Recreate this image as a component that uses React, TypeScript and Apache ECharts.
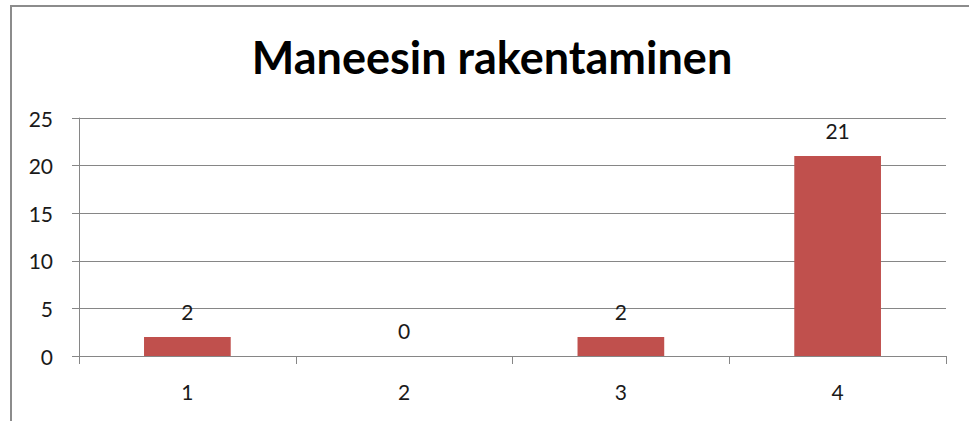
import React, { useEffect, useRef } from "react";
import * as echarts from "echarts";

const titleText = "Maneesin rakentaminen";
const categories = ["1", "2", "3", "4"];
const values = [2, 0, 2, 21];
const yTicks = { min: 0, max: 25, interval: 5 };

export default function App() {
  const ref = useRef<HTMLDivElement>(null);
  useEffect(() => {
    if (!ref.current) return;
    const chart = echarts.init(ref.current, null, { renderer: "svg" });
    const font = "Lato, 'Open Sans', sans-serif";
    chart.setOption({
      animation: false,
      backgroundColor: "#ffffff",
      graphic: [
        {
          type: "rect",
          shape: { x: 11, y: 6, width: 1100, height: 600 },
          style: { fill: "none", stroke: "#8c8c8c", lineWidth: 2 },
          silent: true,
        },
        {
          type: "text",
          x: 492,
          y: 57,
          style: {
            text: titleText,
            font: `bold 45px ${font}`,
            fill: "#000000",
            textAlign: "center",
            textVerticalAlign: "middle",
          },
        },
      ],
      grid: { left: 79, right: 23, top: 118, bottom: 65, containLabel: false },
      xAxis: {
        type: "category",
        data: categories,
        boundaryGap: true,
        axisLine: { show: true, lineStyle: { color: "#868686", width: 1 } },
        axisTick: { show: true, length: 8, lineStyle: { color: "#868686" } },
        axisLabel: { color: "#1a1a1a", fontSize: 21, fontFamily: font, margin: 25 },
        splitLine: { show: false },
      },
      yAxis: {
        type: "value",
        min: yTicks.min,
        max: yTicks.max,
        interval: yTicks.interval,
        axisLine: { show: true, lineStyle: { color: "#868686", width: 1 } },
        axisTick: { show: true, length: 7, lineStyle: { color: "#868686" } },
        axisLabel: { color: "#1a1a1a", fontSize: 21, fontFamily: font, margin: 26 },
        splitLine: { show: true, lineStyle: { color: "#868686", width: 1 } },
      },
      series: [
        {
          type: "bar",
          data: values,
          barWidth: "40%",
          itemStyle: { color: "#C0504D" },
          label: {
            show: true,
            position: "top",
            distance: 15,
            color: "#1a1a1a",
            fontSize: 21,
            fontFamily: font,
          },
        },
      ],
    });
    return () => chart.dispose();
  }, []);
  return (
    <div
      ref={ref}
      style={{ position: "fixed", left: 0, top: 0, width: 969, height: 421 }}
    />
  );
}
